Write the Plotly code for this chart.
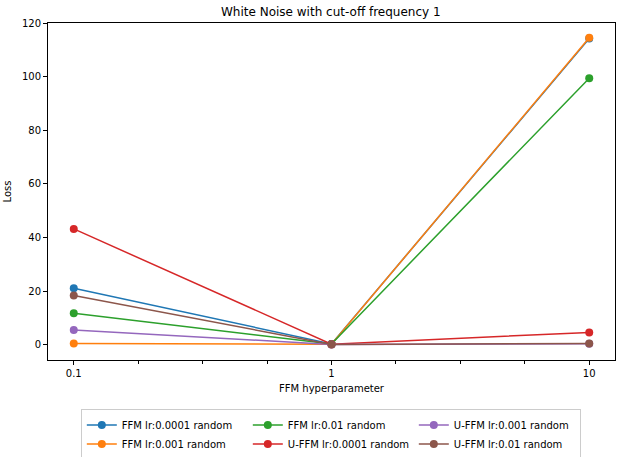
import plotly.graph_objects as go

# hyperparameter values and losses
hparams = [0.1, 1, 10]

ffm_lr0001 = [21.1, 0.3, 114.2]
ffm_lr001 = [0.5, 0.2, 114.5]
ffm_lr01 = [11.7, 0.3, 99.4]
uffm_lr0001 = [43.2, 0.2, 4.6]
uffm_lr001 = [5.5, 0.1, 0.4]
uffm_lr01 = [18.4, 0.1, 0.5]

series = [
    ("FFM lr:0.0001 random", ffm_lr0001, "#1f77b4", 1),
    ("FFM lr:0.001 random", ffm_lr001, "#ff7f0e", 4),
    ("FFM lr:0.01 random", ffm_lr01, "#2ca02c", 2),
    ("U-FFM lr:0.0001 random", uffm_lr0001, "#d62728", 5),
    ("U-FFM lr:0.001 random", uffm_lr001, "#9467bd", 3),
    ("U-FFM lr:0.01 random", uffm_lr01, "#8c564b", 6),
]

fig = go.Figure()
for name, vals, col, rank in series:
    fig.add_trace(go.Scatter(x=hparams, y=vals, name=name, mode="lines+markers",
                             line=dict(color=col, width=1.5),
                             marker=dict(color=col, size=8),
                             legendrank=rank))

axis_style = dict(showline=True, linecolor="black", linewidth=1, mirror=True,
                  ticks="outside", ticklen=4, tickcolor="black", showgrid=False,
                  zeroline=False, automargin=False, tickfont=dict(size=10, color="black"))

fig.update_xaxes(type="log", range=[-1.1, 1.1], tickvals=[0.1, 1, 10],
                 ticktext=["0.1", "1", "10"],
                 minor=dict(ticks="outside", ticklen=3, tickcolor="black",
                            tickvals=[10 ** -0.75, 10 ** -0.5, 10 ** -0.25,
                                      10 ** 0.25, 10 ** 0.5, 10 ** 0.75]),
                 title=dict(text="FFM hyperparameter", font=dict(size=10, color="black"), standoff=6),
                 **axis_style)
fig.update_yaxes(range=[-5.7, 120], tickvals=[0, 20, 40, 60, 80, 100, 120],
                 title=dict(text="Loss", font=dict(size=10, color="black"), standoff=8),
                 **axis_style)

fig.update_layout(
    width=623, height=457,
    margin=dict(l=48, r=8, t=22.5, b=97),
    paper_bgcolor="white", plot_bgcolor="white",
    font=dict(family="DejaVu Sans", color="black"),
    title=dict(text="White Noise with cut-off frequency 1", x=0.531, xanchor="center",
               yref="container", y=0.974, yanchor="middle", font=dict(size=12, color="black")),
    legend=dict(orientation="h", x=0.531, xanchor="center", xref="container",
                y=0.104, yanchor="top", yref="container",
                bordercolor="#cccccc", borderwidth=1, font=dict(size=10),
                entrywidth=121, traceorder="normal", itemwidth=30),
)

# drop the default page margin so the figure sits at the window's top-left
fig.write_html("out.html", config={"displayModeBar": False},
               post_script="document.body.style.margin='0';")
